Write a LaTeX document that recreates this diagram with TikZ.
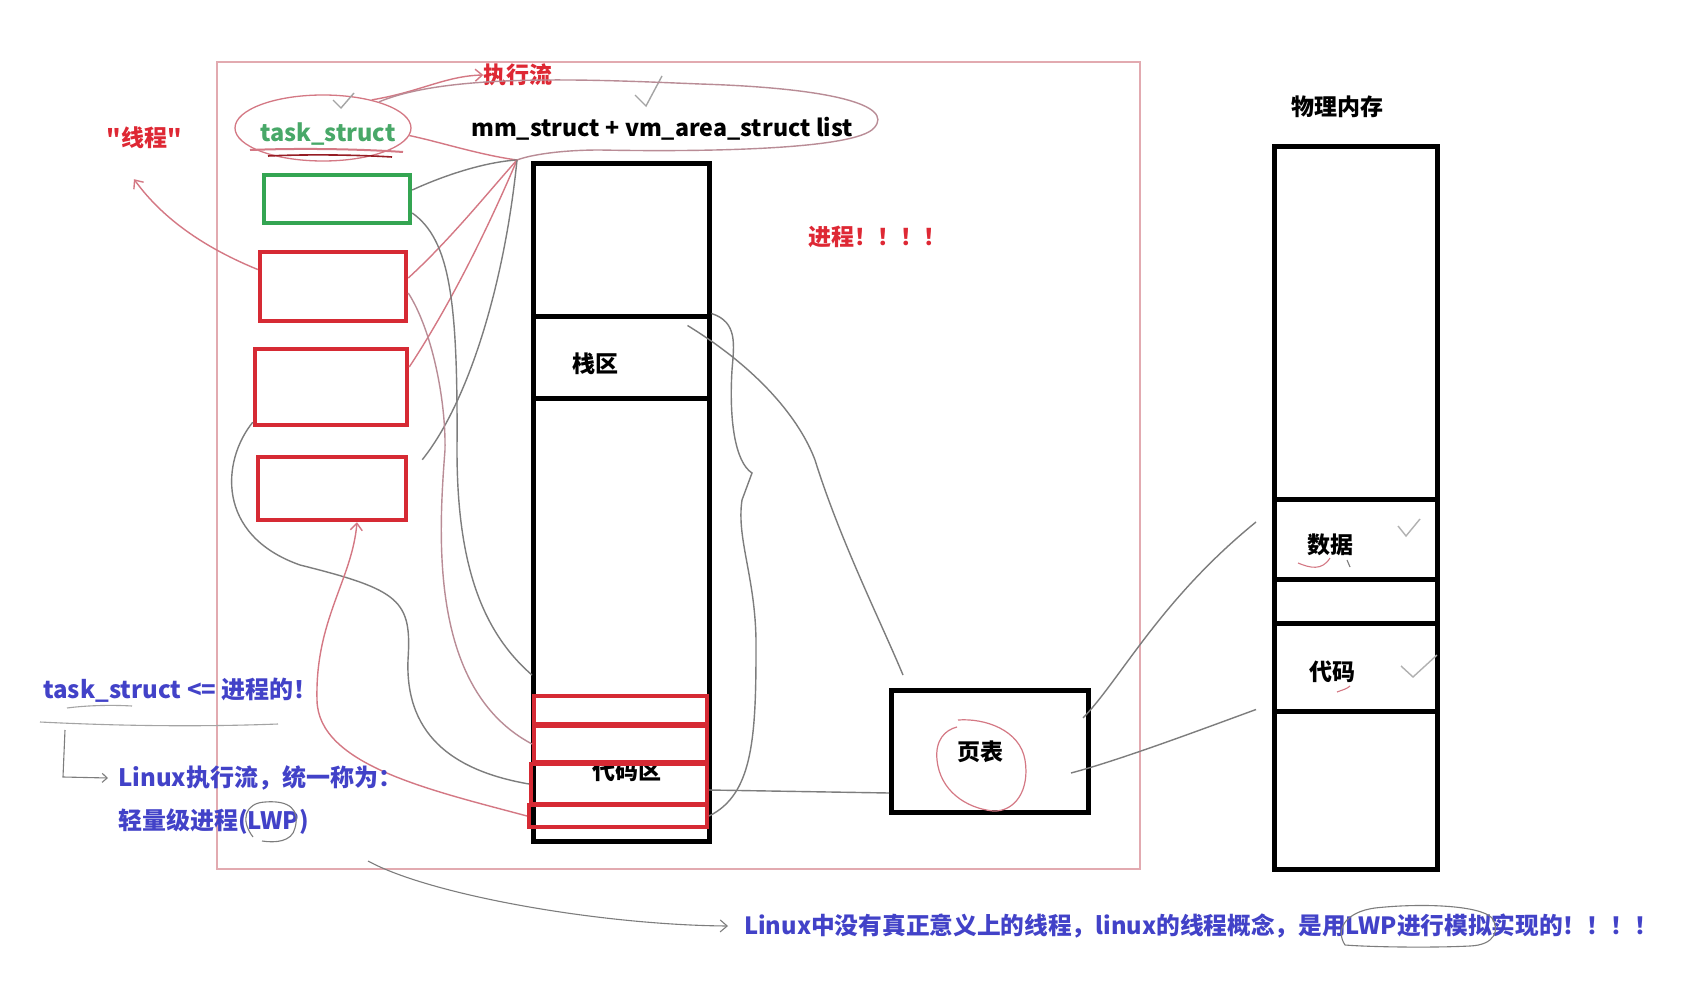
\documentclass[tikz,border=0pt]{standalone}
\usepackage{fontspec}
\setmainfont{Noto Sans CJK SC}
\newfontfamily\qfont{Noto Sans CJK SC}
\usetikzlibrary{arrows.meta,shapes.geometric}
\newcommand{\setfs}[1]{\fontsize{#1pt}{#1pt}\selectfont}
\definecolor{boxred}{RGB}{214,42,52}
\definecolor{txtred}{RGB}{222,40,52}
\definecolor{boxgreen}{RGB}{52,165,82}
\definecolor{txtgreen}{RGB}{72,168,104}
\definecolor{txtblue}{RGB}{66,66,200}
\definecolor{pinkline}{RGB}{212,120,132}
\definecolor{framepink}{RGB}{226,170,176}
\definecolor{penGray}{RGB}{125,125,125}
\definecolor{pinkgray}{RGB}{185,140,150}
\tikzset{
  blk/.style={draw=black, line width=5pt, inner sep=0pt},
  redbox/.style={draw=boxred, line width=4.5pt, inner sep=0pt},
  greenbox/.style={draw=boxgreen, line width=4.5pt, inner sep=0pt},
  barbox/.style={draw=boxred, line width=4pt, inner sep=0pt},
  graypen/.style={draw=penGray, line width=1.4pt},
  pinkpen/.style={draw=pinkline, line width=1.4pt},
  pgpen/.style={draw=pinkgray, line width=1.4pt},
  lbl/.style={inner sep=0pt, font=\setfs{23}\bfseries},
  bluelbl/.style={inner sep=0pt, anchor=west, text=txtblue, font=\setfs{24}\bfseries},
  barb/.style={-{Straight Barb[length=7pt,width=12pt]}},
}
\begin{document}
\begin{tikzpicture}[x=1pt,y=-1pt]
\fill[white] (0,0) rectangle (1698,987);
\useasboundingbox (0,0) rectangle (1698,987);

% outer frame
\draw[draw=framepink, line width=1.5pt] (217,62) rectangle (1140,869);

% process address-space column
\node[blk, minimum width=176pt, minimum height=677pt] (col) at (621,502.5) {};
\node[blk, minimum width=176pt, minimum height=82pt] (stack) at (621,357) {};
\node[lbl] (stacklbl) at (595,364) {栈区};
\node[lbl] (codelbl) at (627,771) {代码区};
\node[barbox, minimum width=173pt, minimum height=28pt] (bar1) at (620.5,710) {};
\node[barbox, fill=white, minimum width=173pt, minimum height=36pt] (bar2) at (620.5,744) {};
\node[barbox, minimum width=176pt, minimum height=40pt] (bar3) at (619,784) {};
\node[barbox, minimum width=178pt, minimum height=22pt] (bar4) at (618,816) {};

% task structs
\node[greenbox, minimum width=146pt, minimum height=48pt] (tsG) at (337,199) {};
\node[redbox, minimum width=146pt, minimum height=69pt] (r1) at (333,286.5) {};
\node[redbox, minimum width=152pt, minimum height=76pt] (r2) at (331,387) {};
\node[redbox, minimum width=148pt, minimum height=63pt] (r3) at (332,488.5) {};

% labels top
\node[lbl, text=txtgreen, font=\setfs{23.5}\bfseries] (tsname) at (328,134) {task\_struct};
\node[ellipse, draw=pinkline, line width=1.3pt, minimum width=176pt, minimum height=66pt] (tsell) at (323,128) {};
\node[lbl, font=\setfs{23.2}\bfseries] (mm) at (662,129) {mm\_struct + vm\_area\_struct list};
\node[lbl, text=txtred] (flow) at (518,75) {执行流};
\node[lbl, text=txtred] (thread) at (144,138) {{\qfont "}线程{\qfont "}};
\node[lbl, text=txtred, anchor=west] (proc) at (808,237) {进程！！！！};

% scribbled underline under task_struct
\draw[draw=pinkline, line width=2pt] (250,150) .. controls (300,148) and (360,149) .. (403,152);
\draw[draw=boxred!70!black, line width=1.6pt] (268,156) .. controls (310,154) and (360,155) .. (392,157);

% check marks
\draw[graypen, draw=penGray!70] (333,100) -- (341,108) -- (354,93);
\draw[graypen, draw=penGray!70] (635,95) -- (646,106) -- (662,76);

% hub at top-left of the column
\coordinate (hub) at (517,160);

% execution-flow arrow
\draw[pinkpen, barb] (tsell.30) .. controls (420,92) and (445,76) .. (flow.west);
% mm loop
\draw[pgpen] (tsell.25) .. controls (450,72) and (600,80) .. (700,84)
  .. controls (830,88) and (895,105) .. (874,128)
  .. controls (855,150) and (700,152) .. (600,150)
  .. controls (560,150) and (530,155) .. (hub);
\draw[pinkpen] (tsell.-5) .. controls (440,142) and (480,155) .. (hub);

% task structs to mm_struct
\draw[graypen] ([yshift=9pt]tsG.east) .. controls (445,175) and (485,162) .. (hub);
\draw[pinkpen] ([yshift=8.5pt]r1.east) .. controls (450,240) and (490,190) .. (hub);
\draw[pinkpen] ([yshift=20pt]r2.east) .. controls (460,290) and (500,200) .. (hub);
\draw[graypen] ([xshift=14pt,yshift=-5pt]r3.north east) .. controls (470,400) and (505,280) .. (hub);

% task structs to code segments
\draw[graypen] ([yshift=-14pt]tsG.east) .. controls (450,240) and (458,300) .. (457,450)
  .. controls (457,560) and (480,630) .. ([yshift=19pt]bar1.north west);
\draw[pgpen] ([yshift=-6.5pt]r1.east) .. controls (432,330) and (446,400) .. (445,450)
  .. controls (438,540) and (430,690) .. (bar2.west);
\draw[graypen] ([yshift=5pt]r2.south west) .. controls (222,460) and (215,535) .. (300,565)
  .. controls (400,590) and (412,600) .. (408,660)
  .. controls (405,740) and (460,772) .. (bar3.west);
\draw[pinkpen, barb] (bar4.west) .. controls (430,790) and (318,765) .. (317,700)
  .. controls (315,620) and (352,580) .. ([xshift=25pt]r3.south);

% "线程" arrow
\draw[pinkpen, barb] ([yshift=17pt]r1.west) .. controls (210,250) and (165,222) .. ([xshift=-10pt,yshift=-30pt]thread.south);

% stack and code to page table
\node[blk, minimum width=197pt, minimum height=122pt] (pt) at (990,751.5) {};
\node[lbl] (ptlbl) at (980,752) {页表};
\draw[pinkpen, line width=1.2pt] (958,720) .. controls (985,718) and (1020,730) .. (1025,760)
  .. controls (1030,790) and (1015,812) .. (993,811)
  .. controls (965,808) and (940,790) .. (937,760)
  .. controls (935,740) and (945,730) .. (957,727);

\draw[graypen] ([xshift=-24pt,yshift=-12pt]stack.north east) .. controls (760,370) and (800,420) .. (815,460)
  .. controls (840,540) and (880,620) .. ([xshift=14pt,yshift=13pt]pt.north west);
\draw[graypen] (stack.north east) .. controls (738,322) and (734,345) .. (732,370)
  .. controls (729,420) and (735,462) .. (752,473) -- (742,500)
  .. controls (736,540) and (757,580) .. (756,650)
  .. controls (756,740) and (752,795) .. (bar4.east);
\draw[graypen] ([yshift=-6pt]bar3.east) -- ([yshift=-41.5pt]pt.west);

% physical memory
\node[lbl] (physlbl) at (1337,107) {物理内存};
\node[blk, minimum width=163pt, minimum height=722pt] (phys) at (1356,508) {};
\node[blk, minimum width=163pt, minimum height=80pt] (data) at (1356,539) {};
\node[blk, minimum width=163pt, minimum height=88pt] (code) at (1356,667) {};
\node[lbl] (datalbl) at (1330,545) {数据};
\node[lbl] (codelbl2) at (1332,672) {代码};
\draw[graypen, draw=penGray!60] (1398,526) -- (1406,536) -- (1420,519);
\draw[graypen, draw=penGray!60] (1401,666) -- (1413,677) -- (1437,655);
\draw[pinkpen, line width=1.1pt] (1298,563) .. controls (1310,568) and (1322,571) .. (1330,558);
\draw[graypen, line width=1.1pt] (1347,560) -- (1350,567);
\draw[pinkpen, line width=1.1pt] (1337,692) .. controls (1342,690) and (1347,689) .. (1350,686);

\draw[graypen] ([xshift=-8pt,yshift=-30pt]pt.north east) .. controls (1120,680) and (1160,600) .. ([xshift=-16pt,yshift=17pt]data.west);
\draw[graypen] ([xshift=-20pt,yshift=-21.5pt]pt.east) .. controls (1120,760) and (1200,730) .. ([xshift=-16pt,yshift=4pt]code.south west);

% blue annotations
\node[bluelbl] (t1) at (43,690) {task\_struct <= 进程的！};
\node[bluelbl] (t2) at (118,778) {Linux执行流，统一称为：};
\node[bluelbl] (t3) at (118,822) {轻量级进程(LWP)};
\draw[graypen, draw=penGray!70, line width=1.1pt] (67,708) .. controls (90,705) and (115,705) .. (132,706);
\coordinate (ulA) at (40,722);
\coordinate (ulB) at (278,724);
\draw[graypen, draw=penGray!70, line width=1.1pt] (ulA) .. controls (120,726) and (200,727) .. (ulB);
\coordinate (bend) at (65,730);
\draw[graypen, line width=1.1pt, -{Straight Barb[length=5pt,width=9pt]}] (bend) -- (63,777) -- ([xshift=-10pt]t2.west);
\draw[graypen, line width=1.1pt] (253,837) .. controls (240,820) and (245,803) .. (265,802)
  .. controls (290,800) and (300,810) .. (295,828) .. controls (292,842) and (275,843) .. (262,841);

\node[bluelbl, font=\setfs{23.7}\bfseries] (t4) at (744,926) {Linux中没有真正意义上的线程，linux的线程概念，是用LWP进行模拟实现的！！！！};
\coordinate (t3tail) at (368,861);
\draw[graypen, line width=1.1pt, barb] (t3tail) .. controls (430,895) and (600,925) .. ([xshift=-16pt]t4.west);
\draw[graypen, line width=1.1pt] (1345,945) .. controls (1335,930) and (1345,912) .. (1375,908)
  .. controls (1420,903) and (1480,905) .. (1492,918)
  .. controls (1500,930) and (1495,945) .. (1470,946)
  .. controls (1430,948) and (1370,947) .. (1345,945);
\end{tikzpicture}
\end{document}
